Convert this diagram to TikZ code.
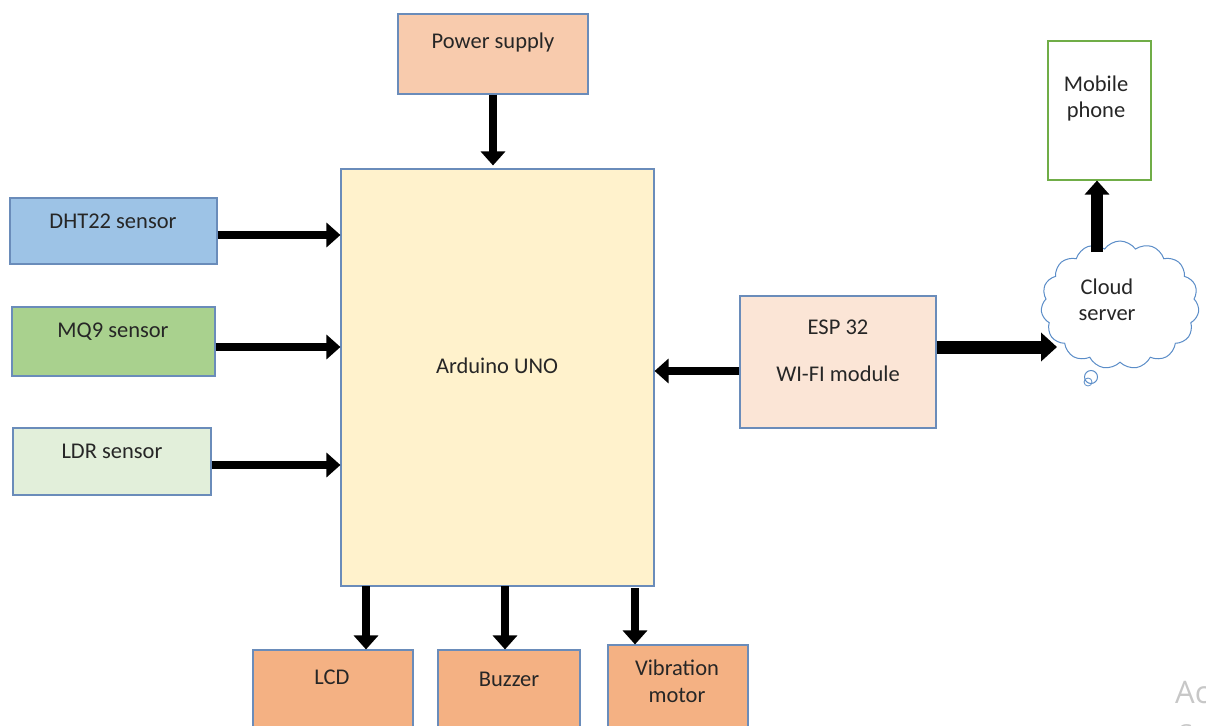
\documentclass[tikz,border=0pt]{standalone}
\usepackage{fontspec}
\setmainfont{Carlito}
\newfontfamily\wmfont{Open Sans}
\usetikzlibrary{arrows.meta,shapes.symbols}
\definecolor{bord}{HTML}{6A8CBA}
\definecolor{psfill}{HTML}{F8CBAD}
\definecolor{ardfill}{HTML}{FFF2CC}
\definecolor{dhtfill}{HTML}{9DC3E6}
\definecolor{mqfill}{HTML}{A9D18E}
\definecolor{ldrfill}{HTML}{E2EFDA}
\definecolor{espfill}{HTML}{FBE5D6}
\definecolor{outfill}{HTML}{F4B183}
\definecolor{mobbord}{HTML}{70AD47}
\definecolor{cloudbord}{HTML}{5B8DC8}
\definecolor{txtcol}{HTML}{262626}
\tikzset{
  box/.style={draw=bord, line width=1.1pt, rectangle, inner sep=0pt},
  txt/.style={text=txtcol, font=\fontsize{22.5}{28}\selectfont, align=center, inner sep=0pt},
  arr/.style={line width=8pt, -{Triangle[length=14pt,width=24pt]}},
  bigarr/.style={line width=13pt, -{Triangle[length=16pt,width=28pt]}},
}
\begin{document}
\begin{tikzpicture}[x=1pt,y=-1pt]
\useasboundingbox (0,0) rectangle (1206,725);
% boxes
\node[box, fill=psfill, minimum width=190pt, minimum height=80pt] (ps) at (493,54) {};
\node[txt] (pst) at (493,43) {Power supply};
\node[box, fill=ardfill, minimum width=313pt, minimum height=417pt] (ard) at (497.5,377.5) {};
\node[txt] (ardt) at (497,366) {Arduino UNO};
\node[box, fill=dhtfill, minimum width=207pt, minimum height=66pt] (dht) at (113.5,231) {};
\node[txt] (dhtt) at (113,221) {DHT22 sensor};
\node[box, fill=mqfill, minimum width=203pt, minimum height=69pt] (mq) at (113.5,341.5) {};
\node[txt] (mqt) at (113,332) {MQ9 sensor};
\node[box, fill=ldrfill, minimum width=198pt, minimum height=67pt] (ldr) at (112,461.5) {};
\node[txt] (ldrt) at (112,451) {LDR sensor};
\node[box, fill=espfill, minimum width=196pt, minimum height=132pt] (esp) at (838,362) {};
\node[txt] (espt1) at (838,327) {ESP 32};
\node[txt] (espt2) at (838,374) {WI-FI module};
\node[draw=mobbord, line width=1.1pt, fill=white, rectangle, inner sep=0pt, minimum width=103pt, minimum height=139pt] (mob) at (1099.5,110.5) {};
\node[txt] (mobt) at (1096,99) {Mobile\\[-2pt]phone};
\node[cloud, draw=cloudbord, line width=1pt, fill=white, cloud puffs=15, cloud puff arc=110, aspect=1.25, minimum width=158pt, minimum height=128pt, inner sep=0pt] (cloud) at (1120,305) {};
\node[txt] (cloudt) at (1107,300) {Cloud\\[-2pt]server};
\node[draw=cloudbord, line width=1pt, circle, minimum size=13pt, inner sep=0pt, fill=white] (tb1) at (1091,377) {};
\node[draw=cloudbord, line width=0.8pt, circle, minimum size=8pt, inner sep=0pt] (tb2) at (1088,382) {};
\node[box, fill=outfill, minimum width=160pt, minimum height=100pt] (lcd) at (333,700) {};
\node[txt] (lcdt) at (332,677) {LCD};
\node[box, fill=outfill, minimum width=142pt, minimum height=100pt] (buz) at (509,700) {};
\node[txt] (buzt) at (509,679) {Buzzer};
\node[box, fill=outfill, minimum width=140pt, minimum height=110pt] (vib) at (678,700) {};
\node[txt] (vibt) at (677,681) {Vibration\\[-1pt]motor};
% arrows
\draw[arr] (ps.south) -- ([yshift=3pt]ard.north -| ps.south);
\draw[arr] ([yshift=-4pt]dht.east) -- ([yshift=-4pt]dht.east -| ard.west);
\draw[arr] ([yshift=-5.5pt]mq.east) -- ([yshift=-5.5pt]mq.east -| ard.west);
\draw[arr] ([yshift=-3.5pt]ldr.east) -- ([yshift=-3.5pt]ldr.east -| ard.west);
\draw[arr] ([yshift=-9pt]esp.west) -- ([yshift=-9pt]esp.west -| ard.east);
\coordinate (cin) at (1057,347);
\draw[bigarr] (esp.east |- cin) -- (cin);
\coordinate (cout) at (1097,252);
\draw[line width=12pt, -{Triangle[length=14pt,width=24pt]}] (cout) -- (cout |- mob.south);
\coordinate (o1) at (366,586);
\coordinate (o2) at (505,586);
\coordinate (o3) at (635,588);
\draw[arr] (o1) -- (o1 |- lcd.north);
\draw[arr] (o2) -- (o2 |- buz.north);
\draw[arr] (o3) -- (o3 |- vib.north);
% watermark
\node[anchor=base west, inner sep=0pt, text=black!22, font=\wmfont\fontsize{31}{36}\selectfont] (wm1) at (1175,703) {Activate Windows};
\node[anchor=base west, inner sep=0pt, text=black!22, font=\wmfont\fontsize{22}{26}\selectfont] (wm2) at (1177,740) {Go to Settings};
\end{tikzpicture}
\end{document}
